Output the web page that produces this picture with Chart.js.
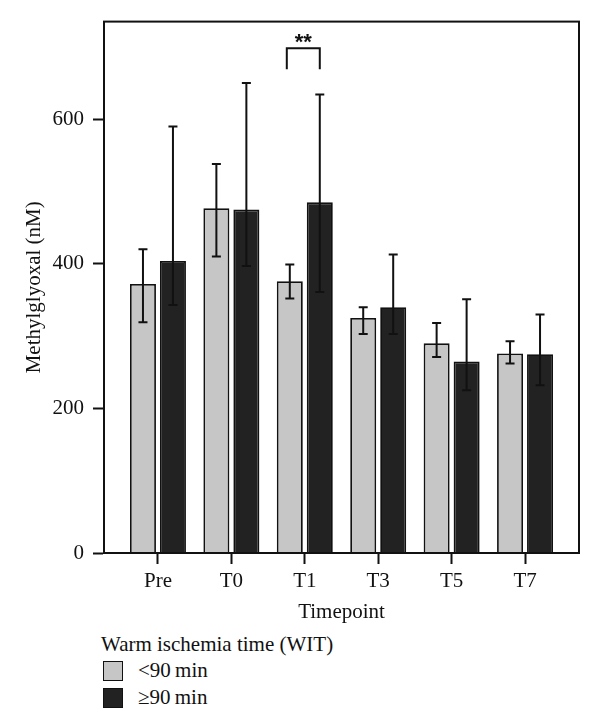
<!DOCTYPE html>
<html>
<head>
<meta charset="utf-8">
<script src="https://cdn.jsdelivr.net/npm/chart.js@4/dist/chart.umd.min.js"></script>
<style>
  body { margin: 0; background: #fff; font-family: "Liberation Serif", "DejaVu Serif", serif; }
  #wrap { position: relative; width: 600px; height: 726px; }
  #legend { position: absolute; left: 101px; top: 632px; font-size: 21px; color: #111; }
  #legend .title { height: 25px; line-height: 25px; }
  #legend .item { height: 27px; display: flex; align-items: center; }
  #legend .box { width: 18px; height: 18px; border: 1.5px solid #111; margin-left: 2px; margin-right: 15px; }
</style>
</head>
<body>
<div id="wrap">
  <canvas id="wit" width="600" height="630"></canvas>
  <div id="legend"></div>
</div>
<script>
const categories = ['Pre', 'T0', 'T1', 'T3', 'T5', 'T7'];
const seriesNames = ['<90\u2009min', '\u226590\u2009min'];
const under90 = [372, 477, 376, 325, 290, 276];
const under90Low = [319, 410, 352, 303, 271, 262];
const under90High = [420, 538, 399, 340, 318, 293];
const over90 = [404, 475, 485, 340, 265, 275];
const over90Low = [343, 397, 361, 303, 225, 232];
const over90High = [590, 650, 634, 413, 351, 330];
const yTicks = [0, 200, 400, 600];
const fills = ['#c6c6c6', '#222222'];

// legend in html
const legendEl = document.getElementById('legend');
let html = '<div class="title">Warm ischemia time (WIT)</div>';
seriesNames.forEach((name, i) => {
    html += '<div class="item"><span class="box" style="background:' + fills[i] + '"></span>' + name + '</div>';
});
legendEl.innerHTML = html;

const errors = [[under90Low, under90High], [over90Low, over90High]];

const errorBars = {
    id: 'errorBars',
    afterDatasetsDraw(chart) {
        const ctx = chart.ctx;
        const y = chart.scales.y;
        ctx.save();
        ctx.strokeStyle = '#111';
        ctx.lineWidth = 2;
        errors.forEach((pair, d) => {
            const meta = chart.getDatasetMeta(d);
            meta.data.forEach((bar, i) => {
                const top = y.getPixelForValue(pair[1][i]);
                const bot = y.getPixelForValue(pair[0][i]);
                ctx.beginPath();
                ctx.moveTo(bar.x, top);
                ctx.lineTo(bar.x, bot);
                ctx.moveTo(bar.x - 4.5, top);
                ctx.lineTo(bar.x + 4.5, top);
                ctx.moveTo(bar.x - 4.5, bot);
                ctx.lineTo(bar.x + 4.5, bot);
                ctx.stroke();
            });
        });

        // significance bracket over T1
        const a = chart.getDatasetMeta(0).data[2].x - 3;
        const b = chart.getDatasetMeta(1).data[2].x;
        const yTop = y.getPixelForValue(698);
        const yLeg = y.getPixelForValue(669);
        ctx.lineWidth = 2;
        ctx.beginPath();
        ctx.moveTo(a, yLeg);
        ctx.lineTo(a, yTop);
        ctx.lineTo(b, yTop);
        ctx.lineTo(b, yLeg);
        ctx.stroke();
        ctx.fillStyle = '#111';
        ctx.font = 'bold 22px "Liberation Sans", sans-serif';
        ctx.textAlign = 'center';
        ctx.textBaseline = 'middle';
        ctx.fillText('**', (a + b) / 2, y.getPixelForValue(706));

        // frame
        const ca = chart.chartArea;
        ctx.lineWidth = 2;
        ctx.strokeRect(ca.left, ca.top, ca.right - ca.left, ca.bottom - ca.top);
        ctx.restore();
    }
};

new Chart(document.getElementById('wit'), {
    type: 'bar',
    data: {
        datasets: [
            {
                label: seriesNames[0],
                data: under90.map((v, i) => ({ x: i, y: v })),
                backgroundColor: fills[0],
                borderColor: '#111',
                borderWidth: 1.8
            },
            {
                label: seriesNames[1],
                data: over90.map((v, i) => ({ x: i, y: v })),
                backgroundColor: fills[1],
                borderColor: '#111',
                borderWidth: 1.8
            }
        ]
    },
    options: {
        responsive: false,
        animation: false,
        categoryPercentage: 0.817,
        barPercentage: 0.867,
        layout: { padding: { top: 21, right: 21, left: 0, bottom: 0 } },
        plugins: {
            legend: { display: false },
            tooltip: { enabled: false }
        },
        scales: {
            x: {
                type: 'linear',
                offset: false,
                min: -0.735,
                max: 5.735,
                afterBuildTicks: scale => { scale.ticks = categories.map((_, i) => ({ value: i })); },
                afterFit: scale => { scale.height = 77; },
                ticks: {
                    callback: value => categories[value],
                    color: '#111',
                    padding: 5,
                    maxRotation: 0,
                    font: { family: '"Liberation Serif", serif', size: 21 }
                },
                grid: { offset: false, drawOnChartArea: false, tickLength: 11, tickColor: '#111', tickWidth: 2 },
                border: { color: '#111', width: 2 },
                title: {
                    display: true,
                    text: 'Timepoint',
                    color: '#111',
                    padding: { bottom: 5 },
                    font: { family: '"Liberation Serif", serif', size: 21 }
                }
            },
            y: {
                min: 0,
                max: 735,
                afterBuildTicks: scale => { scale.ticks = yTicks.map(v => ({ value: v })); },
                afterFit: scale => { scale.width = 104; },
                ticks: {
                    color: '#111',
                    padding: 9,
                    font: { family: '"Liberation Serif", serif', size: 21 }
                },
                grid: { drawOnChartArea: false, tickLength: 11, tickColor: '#111', tickWidth: 2 },
                border: { color: '#111', width: 2 },
                title: {
                    display: true,
                    text: 'Methylglyoxal (nM)',
                    color: '#111',
                    padding: { top: 22 },
                    font: { family: '"Liberation Serif", serif', size: 21 }
                }
            }
        }
    },
    plugins: [errorBars]
});
</script>
</body>
</html>
